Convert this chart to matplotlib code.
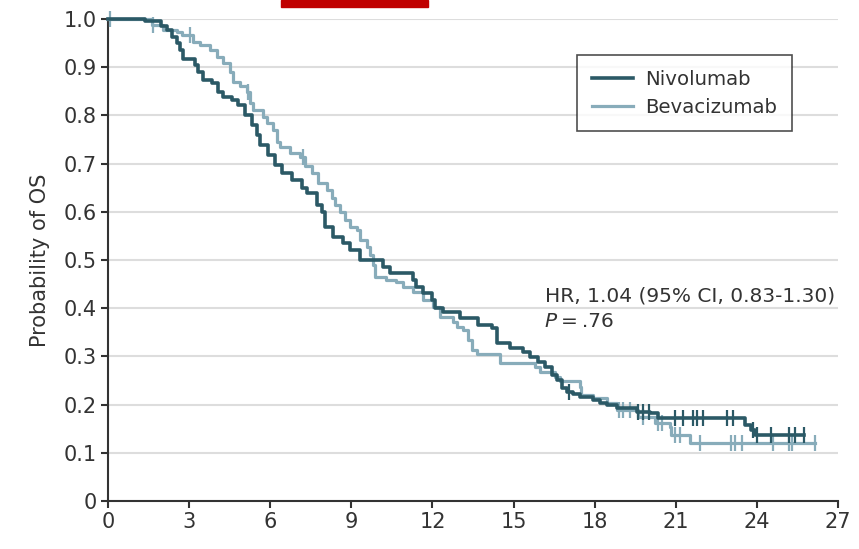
import numpy as np
import matplotlib.pyplot as plt
from matplotlib.patches import Rectangle

plt.rcParams['font.family'] = ['DejaVu Sans']

# Kaplan-Meier steps (months, survival after step)
nivo_t = [0, 1.35, 1.95, 2.17, 2.35, 2.54, 2.65, 2.79, 3.22, 3.34, 3.53, 3.83, 4.08, 4.27,
          4.57, 4.82, 5.07, 5.31, 5.5, 5.62, 5.93, 6.18, 6.42, 6.79, 7.16, 7.35, 7.72, 7.9,
          8.03, 8.33, 8.7, 8.95, 9.32, 10.18, 10.43, 11.29, 11.41, 11.66, 11.97, 12.1, 12.4,
          13.02, 13.7, 14.19, 14.38, 14.87, 15.36, 15.61, 15.91, 16.16, 16.41, 16.59, 16.78,
          16.96, 17.2, 17.45, 17.95, 18.19, 18.44, 18.81, 19.55, 20.04, 20.35, 23.56, 23.8,
          23.93, 25.74]
nivo_s = [1.0, 0.995, 0.985, 0.977, 0.963, 0.950, 0.936, 0.918, 0.905, 0.891, 0.873, 0.867,
          0.849, 0.839, 0.832, 0.822, 0.801, 0.780, 0.759, 0.739, 0.718, 0.697, 0.680, 0.666,
          0.649, 0.638, 0.614, 0.600, 0.569, 0.548, 0.535, 0.521, 0.500, 0.486, 0.472, 0.459,
          0.445, 0.431, 0.417, 0.400, 0.393, 0.379, 0.365, 0.358, 0.327, 0.317, 0.310, 0.299,
          0.289, 0.279, 0.261, 0.251, 0.234, 0.227, 0.223, 0.216, 0.210, 0.203, 0.199, 0.192,
          0.185, 0.182, 0.172, 0.158, 0.147, 0.137, 0.137]
nivo_cens = [17.05, 19.59, 19.77, 20.0, 20.97, 21.28, 21.62, 21.8, 22.0, 22.88, 23.12, 23.87,
             23.99, 24.52, 25.17, 25.42, 25.74]

bev_t = [0, 1.61, 2.03, 2.54, 2.72, 3.16, 3.4, 3.77, 4.02, 4.27, 4.51, 4.63, 4.88, 5.13, 5.25,
         5.37, 5.74, 5.87, 6.11, 6.24, 6.36, 6.73, 7.1, 7.29, 7.53, 7.78, 8.09, 8.27, 8.39,
         8.58, 8.77, 8.95, 9.2, 9.32, 9.57, 9.69, 9.81, 9.87, 10.3, 10.67, 10.92, 11.29, 11.66,
         12.03, 12.28, 12.77, 12.9, 13.14, 13.33, 13.45, 13.64, 14.5, 15.79, 15.98, 16.53,
         16.72, 17.45, 17.51, 17.95, 18.44, 18.81, 19.61, 20.23, 20.78, 20.84, 21.52, 26.15]
bev_s = [1.0, 0.988, 0.977, 0.974, 0.967, 0.953, 0.946, 0.936, 0.922, 0.908, 0.891, 0.870,
         0.860, 0.849, 0.825, 0.811, 0.797, 0.784, 0.770, 0.745, 0.735, 0.721, 0.714, 0.694,
         0.680, 0.659, 0.645, 0.628, 0.614, 0.600, 0.583, 0.569, 0.562, 0.541, 0.528, 0.510,
         0.490, 0.465, 0.459, 0.455, 0.445, 0.434, 0.417, 0.403, 0.382, 0.372, 0.362, 0.355,
         0.334, 0.313, 0.306, 0.286, 0.279, 0.268, 0.258, 0.248, 0.237, 0.220, 0.213, 0.203,
         0.189, 0.175, 0.161, 0.154, 0.137, 0.120, 0.120]
bev_cens = [0.07, 1.65, 3.03, 5.19, 7.22, 18.9, 19.05, 19.3, 19.8, 20.33, 20.5, 20.97, 21.15,
            21.9, 23.06, 23.18, 23.46, 24.58, 25.17, 25.3, 26.15]

x_ticks = np.arange(0, 28, 3)
y_ticks = np.arange(0, 1.01, 0.1)
y_labels = ['0'] + ['%.1f' % v for v in y_ticks[1:]]

dark = '#2b5966'
light = '#88acba'
txt = '#333333'


def surv_at(t, times, surv):
    idx = np.searchsorted(times, t, side='right') - 1
    return np.array(surv)[idx]


fig = plt.figure(figsize=(8.59, 5.49), dpi=100)
ax = fig.add_axes([108 / 859, 1 - 501 / 549, 730 / 859, 482 / 549])

for tt, ss, cens, col, lw, name in [(nivo_t, nivo_s, nivo_cens, dark, 2.6, 'Nivolumab'),
                                    (bev_t, bev_s, bev_cens, light, 2.3, 'Bevacizumab')]:
    ax.step(tt, ss, where='post', color=col, lw=lw, label=name, clip_on=False, zorder=3)
    ax.plot(cens, surv_at(cens, tt, ss), ls='none', marker='|', ms=11, mew=1.6,
            color=col, clip_on=False, zorder=3)

# the dark curve sits on top
ax.lines[0].set_zorder(4)
ax.lines[1].set_zorder(4)

ax.set_xlim(0, 27)
ax.set_ylim(0, 1.0)
ax.set_xticks(x_ticks)
ax.set_yticks(y_ticks)
ax.set_yticklabels(y_labels)
ax.grid(axis='y', color='#dddddd', lw=1.5)
ax.set_axisbelow(True)
for s in ['top', 'right']:
    ax.spines[s].set_visible(False)
for s in ['left', 'bottom']:
    ax.spines[s].set_color(txt)
    ax.spines[s].set_linewidth(1.5)
ax.tick_params(colors=txt, labelsize=15, width=1.5, length=5, pad=3)
ax.set_ylabel('Probability of OS', fontsize=15, color=txt, labelpad=10)

leg = ax.legend(loc='upper left', bbox_to_anchor=((577 - 108) / 730, 1 - 36 / 482),
                borderaxespad=0, fontsize=14.2, frameon=True, fancybox=False,
                edgecolor='#222222', handlelength=2.1, handletextpad=0.6,
                borderpad=0.75, labelspacing=0.45)
leg.get_frame().set_linewidth(1.2)
for t in leg.get_texts():
    t.set_color(txt)

ax.text(16.16, 0.413, 'HR, 1.04 (95% CI, 0.83-1.30)', fontsize=14.5, color=txt,
        va='baseline')
p = ax.text(16.16, 0.361, 'P', fontsize=14.5, color=txt, style='italic', va='baseline')
ax.annotate('\u2009=\u2009.76', xy=(1, 0), xycoords=p, fontsize=14.5, color=txt, va='bottom')

fig.patches.append(Rectangle((281 / 859, 1 - 7 / 549), 147 / 859, 7 / 549,
                             transform=fig.transFigure, color='#c00000'))

fig.savefig('out.png', dpi=100)
